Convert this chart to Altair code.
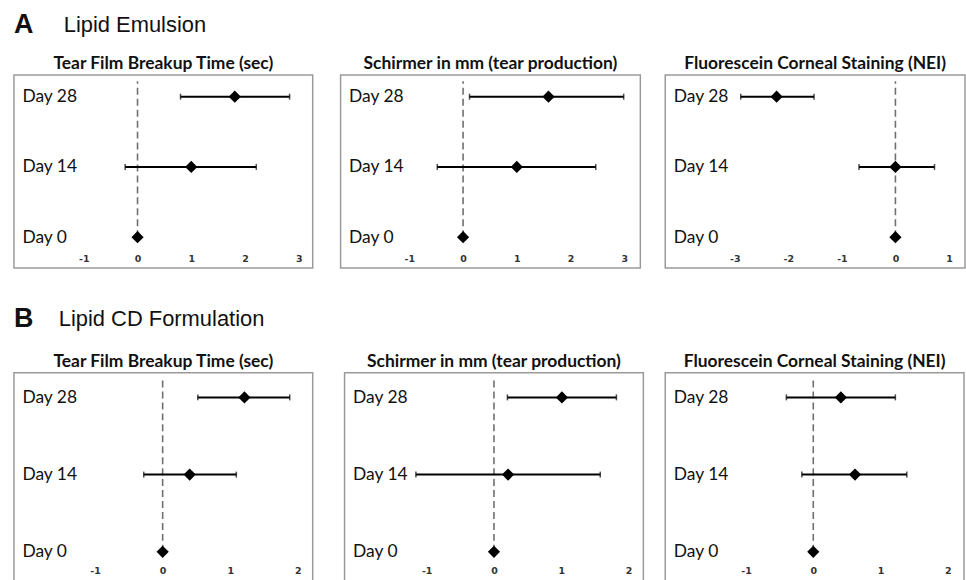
import altair as alt
import pandas as pd

# ---------------- data ----------------
days = ["Day 28", "Day 14", "Day 0"]
day_pos = [2, 1, 0]

headers = ["A", "B"]
header_names = ["Lipid Emulsion", "Lipid CD Formulation"]

panel_titles = ["Tear Film Breakup Time (sec)",
                "Schirmer in mm (tear production)",
                "Fluorescein Corneal Staining (NEI)"]

# Row A: Lipid Emulsion
a_tbut_mean = [1.81, 1.00, 0.0]
a_tbut_lo = [0.80, -0.23, 0.0]
a_tbut_hi = [2.83, 2.21, 0.0]

a_sch_mean = [1.59, 1.00, 0.0]
a_sch_lo = [0.12, -0.48, 0.0]
a_sch_hi = [2.99, 2.47, 0.0]

a_flu_mean = [-2.22, 0.00, 0.0]
a_flu_lo = [-2.89, -0.68, 0.0]
a_flu_hi = [-1.52, 0.73, 0.0]

# Row B: Lipid CD Formulation
b_tbut_mean = [1.21, 0.40, 0.0]
b_tbut_lo = [0.52, -0.28, 0.0]
b_tbut_hi = [1.88, 1.09, 0.0]

b_sch_mean = [1.01, 0.21, 0.0]
b_sch_lo = [0.20, -1.16, 0.0]
b_sch_hi = [1.82, 1.58, 0.0]

b_flu_mean = [0.41, 0.62, 0.0]
b_flu_lo = [-0.40, -0.17, 0.0]
b_flu_hi = [1.22, 1.39, 0.0]

a_ticks_pos = [-1, 0, 1, 2, 3]
a_ticks_neg = [-3, -2, -1, 0, 1]
b_ticks = [-1, 0, 1, 2]

# ---------------- helpers ----------------
label_expr = " : ".join(
    [f"datum.value === {p} ? '{d}'" for p, d in zip(day_pos[:-1], days[:-1])]
    + [f"'{days[-1]}'"]
)

LABEL_FONT = "Lato"


def panel(mean, lo, hi, title, xdom, ticks, ydom, height, width, tick_offset):
    df = pd.DataFrame({"day": days, "pos": day_pos, "mean": mean, "lo": lo, "hi": hi})
    zero_df = pd.DataFrame({"x": [0], "y0": [0], "y1": [2.22]})

    xscale = alt.Scale(domain=xdom, nice=False, zero=False)
    yscale = alt.Scale(domain=ydom, nice=False, zero=False)
    xaxis = alt.Axis(values=ticks, title=None, grid=False, domain=False, ticks=False,
                     tickSize=0, labelPadding=0, offset=tick_offset, labelFlush=False,
                     labelOverlap=False, labelFont="DejaVu Sans", labelFontWeight="bold",
                     labelFontSize=9.5, labelColor="#333333",
                     labelExpr="datum.value + ''")
    yaxis = alt.Axis(values=day_pos, labelExpr=label_expr, title=None, grid=False,
                     domain=False, ticks=False, tickSize=0, labelPadding=0, offset=-8,
                     labelAlign="left", labelBaseline="middle", labelFont=LABEL_FONT,
                     labelFontSize=17.5, labelColor="#111111")

    zero = alt.Chart(zero_df).mark_rule(color="#6f6f6f", strokeWidth=1.6,
                                        strokeDash=[7, 4]).encode(
        x=alt.X("x:Q", scale=xscale, axis=xaxis),
        y=alt.Y("y0:Q", scale=yscale, axis=yaxis),
        y2="y1:Q",
    )
    ci = alt.Chart(df).transform_filter("datum.hi > datum.lo").mark_rule(
        color="black", strokeWidth=2).encode(
        x=alt.X("lo:Q", scale=xscale, axis=xaxis),
        x2="hi:Q",
        y=alt.Y("pos:Q", scale=yscale, axis=yaxis),
    )
    caps = alt.Chart(df).transform_filter("datum.hi > datum.lo").transform_fold(
        ["lo", "hi"], as_=["end", "val"]).mark_tick(
        orient="vertical", size=6, thickness=1.5, color="black").encode(
        x=alt.X("val:Q", scale=xscale, axis=xaxis),
        y=alt.Y("pos:Q", scale=yscale, axis=yaxis),
    )
    pts = alt.Chart(df).mark_point(shape="diamond", filled=True, size=150,
                                   color="black", opacity=1).encode(
        x=alt.X("mean:Q", scale=xscale, axis=xaxis),
        y=alt.Y("pos:Q", scale=yscale, axis=yaxis),
    )
    return alt.layer(zero, ci, caps, pts).properties(
        width=width, height=height,
        title=alt.TitleParams(title, anchor="middle", offset=2),
    )


def header(letter, name, text_y, h, name_x):
    hdf = pd.DataFrame({"letter": [letter], "name": [name]})
    let = alt.Chart(hdf).mark_text(align="left", baseline="middle", font="Liberation Sans",
                                   fontWeight="bold", fontSize=27, color="#111111").encode(
        text="letter:N", x=alt.value(0), y=alt.value(text_y))
    nm = alt.Chart(hdf).mark_text(align="left", baseline="middle", font="Liberation Sans",
                                  fontSize=22, color="#111111").encode(
        text="name:N", x=alt.value(name_x), y=alt.value(text_y))
    return alt.layer(let, nm).properties(
        width=300, height=h, view=alt.ViewBackground(strokeOpacity=0))


A_Y = [-0.44, 2.31]
B_Y = [-0.44, 2.32]

a1 = panel(a_tbut_mean, a_tbut_lo, a_tbut_hi, panel_titles[0], [-2.3, 3.26], a_ticks_pos, A_Y, 194, 300, -15)
a2 = panel(a_sch_mean, a_sch_lo, a_sch_hi, panel_titles[1], [-2.28, 3.3], a_ticks_pos, A_Y, 194, 301, -15)
a3 = panel(a_flu_mean, a_flu_lo, a_flu_hi, panel_titles[2], [-4.3, 1.3], a_ticks_neg, A_Y, 194, 301, -15)

b1 = panel(b_tbut_mean, b_tbut_lo, b_tbut_hi, panel_titles[0], [-2.2, 2.22], b_ticks, B_Y, 214, 300, -20)
b2 = panel(b_sch_mean, b_sch_lo, b_sch_hi, panel_titles[1], [-2.22, 2.22], b_ticks, B_Y, 214, 300, -20)
b3 = panel(b_flu_mean, b_flu_lo, b_flu_hi, panel_titles[2], [-2.2, 2.24], b_ticks, B_Y, 214, 300, -20)

row_a = alt.hconcat(alt.hconcat(a1, a2, spacing=26), a3, spacing=23)
row_b = alt.hconcat(alt.hconcat(b1, b2, spacing=30), b3, spacing=20)

chart = alt.vconcat(
    header(headers[0], header_names[0], 15, 44, 50), row_a,
    header(headers[1], header_names[1], 50, 83, 45), row_b,
    spacing=0,
).properties(
    padding={"left": 13, "top": 9, "right": 0, "bottom": 0},
    background="white",
).configure_view(
    stroke="#9a9a9a", strokeWidth=1.5,
).configure_title(
    font="Lato", fontWeight="bold", fontSize=17.5, color="#111111",
)

chart.save("out.html", embed_options={"renderer": "svg", "actions": False})
